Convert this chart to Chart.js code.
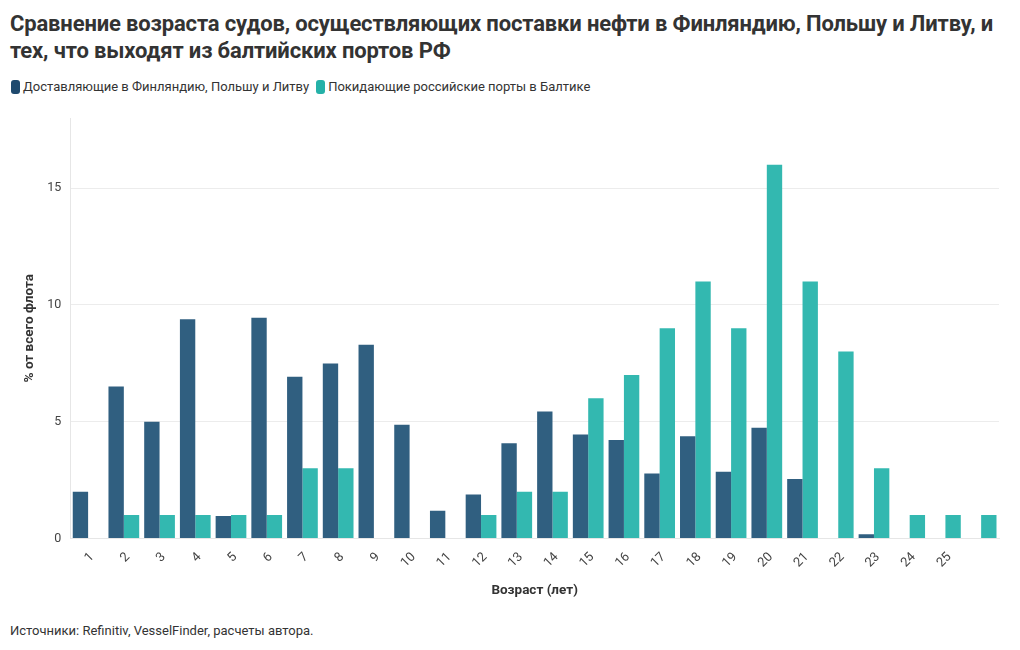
<!DOCTYPE html>
<html>
<head>
<meta charset="utf-8">
<script src="https://cdn.jsdelivr.net/npm/chart.js@4"></script>
<style>
  body { margin: 0; background: #fff; font-family: Roboto, "Noto Sans", sans-serif; color: #333; }
  #title { position: absolute; left: 10px; top: 10px; width: 1010px; font-size: 22px; font-weight: bold; line-height: 27px; color: #333; letter-spacing: -0.15px; white-space: nowrap; }
  #legend { position: absolute; left: 11px; top: 79px; font-size: 13px; color: #333; display: flex; align-items: center; }
  .sw { display: inline-block; width: 9px; height: 14px; border-radius: 3px; margin-right: 3px; }
  .item { display: flex; align-items: center; margin-right: 7px; }
  #wrap { position: absolute; left: 0; top: 100px; width: 1020px; height: 505px; }
  #source { position: absolute; left: 10px; top: 623px; font-size: 13px; color: #333; }
</style>
</head>
<body>
<div id="title">Сравнение возраста судов, осуществляющих поставки нефти в Финляндию, Польшу и Литву, и<br>тех, что выходят из балтийских портов РФ</div>
<div id="legend">
  <span class="item"><span class="sw" style="background:#1f4a6e"></span>Доставляющие в Финляндию, Польшу и Литву</span>
  <span class="item"><span class="sw" style="background:#25b1a8"></span>Покидающие российские порты в Балтике</span>
</div>
<div id="wrap"><canvas id="grafico"></canvas></div>
<div id="source">Источники: Refinitiv, VesselFinder, расчеты автора.</div>
<script>
// === Dados ===
const idades = ["1","2","3","4","5","6","7","8","9","10","11","12","13","14","15","16","17","18","19","20","21","22","23","24","25",""];
const finlandiaPolonia = [2.0, 6.5, 5.0, 9.38, 0.96, 9.45, 6.92, 7.49, 8.29, 4.87, 1.19, 1.88, 4.07, 5.43, 4.45, 4.21, 2.78, 4.38, 2.85, 4.74, 2.54, 0, 0.18, 0, 0, 0];
const portosRussos = [0, 1, 1, 1, 1, 1, 3, 3, 0, 0, 0, 1, 2, 2, 6, 7, 9, 11, 9, 16, 11, 8, 3, 1, 1, 1];
const ticksY = [0, 5, 10, 15];

Chart.defaults.font.family = "Roboto, 'Noto Sans', sans-serif";
Chart.defaults.color = "#444";

const grafico = new Chart(document.getElementById("grafico"), {
    type: "bar",
    data: {
        labels: idades,
        datasets: [
            { label: "Доставляющие в Финляндию, Польшу и Литву", data: finlandiaPolonia, backgroundColor: "#305f80" },
            { label: "Покидающие российские порты в Балтике", data: portosRussos, backgroundColor: "#33b8b0" }
        ]
    },
    options: {
        responsive: true,
        maintainAspectRatio: false,
        animation: false,
        layout: { padding: { left: 18, right: 21, top: 18, bottom: 2 } },
        datasets: { bar: { categoryPercentage: 0.86, barPercentage: 1.0 } },
        plugins: {
            legend: { display: false },
            tooltip: { enabled: false }
        },
        scales: {
            x: {
                grid: { display: false },
                border: { color: "#e6e6e6" },
                ticks: { color: "#444", font: { size: 13 }, maxRotation: 45, minRotation: 45, autoSkip: false, labelOffset: 4 },
                title: { display: true, text: "Возраст (лет)", color: "#333", font: { size: 13.5, weight: "bold" }, padding: { top: 9 } }
            },
            y: {
                min: 0,
                max: 18,
                afterBuildTicks: axis => { axis.ticks = ticksY.map(v => ({ value: v })); },
                grid: { color: "#ececec", drawTicks: false },
                border: { color: "#e6e6e6" },
                ticks: { color: "#444", font: { size: 12.5 }, padding: 9 },
                title: { display: true, text: "% от всего флота", color: "#333", font: { size: 13.5, weight: "bold" }, padding: { bottom: 0 } }
            }
        }
    }
});
</script>
</body>
</html>
